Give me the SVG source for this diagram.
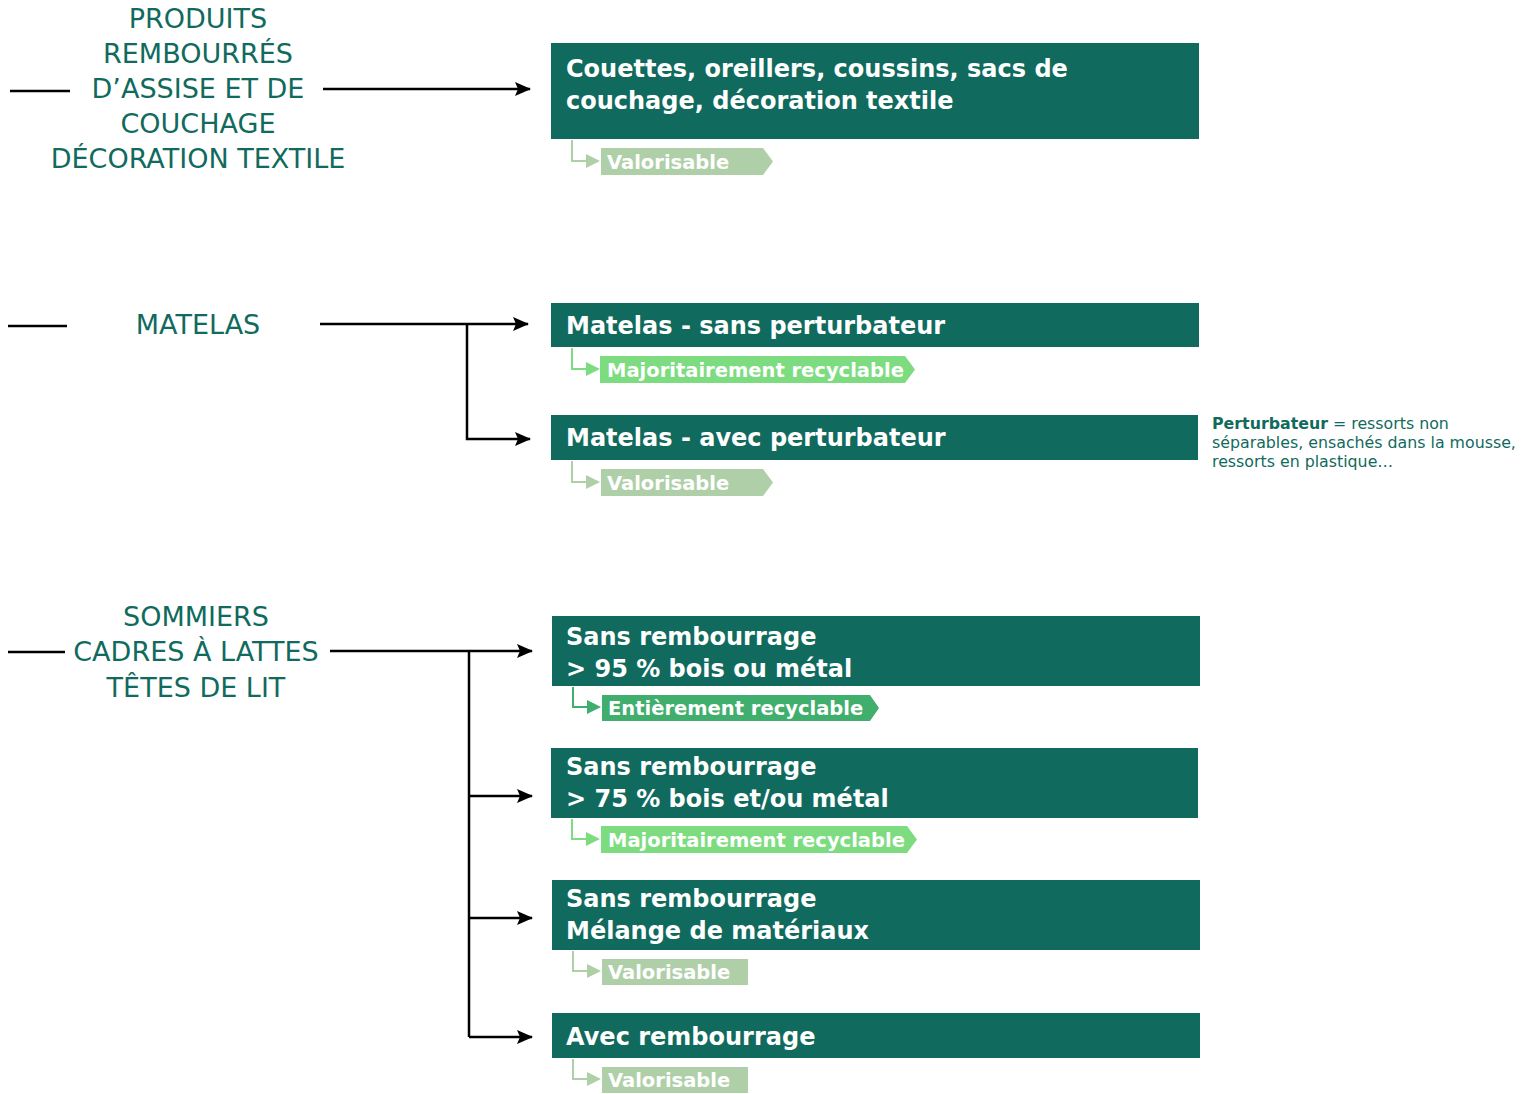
<svg xmlns="http://www.w3.org/2000/svg" width="1530" height="1094" viewBox="0 0 1530 1094">
<defs>
<marker id="ah" markerWidth="16" markerHeight="14" refX="15" refY="7" orient="auto" markerUnits="userSpaceOnUse"><path d="M0,0 L16,7 L0,14 L3,7 z" fill="#000"/></marker>
<style>
.box{fill:#116A5E}
.bt{font-family:"DejaVu Sans","Noto Sans",sans-serif;font-weight:700;font-size:24px;fill:#fff}
.cat{font-family:"DejaVu Sans","Noto Sans",sans-serif;font-size:27px;fill:#116A5E;text-anchor:middle}
.tt{font-family:"DejaVu Sans","Noto Sans",sans-serif;font-weight:700;font-size:19.5px;fill:#fff}
.conn{stroke:#000;stroke-width:2.5;fill:none}
.note{font-family:"DejaVu Sans","Noto Sans",sans-serif;font-size:15.8px;fill:#116A5E}
.val{fill:#AFCFA9}.maj{fill:#7DDC7F}.ent{fill:#40AE6C}
.lval{stroke:#AFCFA9}.lmaj{stroke:#7DDC7F}.lent{stroke:#40AE6C}
.tl{fill:none;stroke-width:2}
</style>
</defs>
<g id="connectors">
<line class="conn" x1="10" y1="91" x2="70" y2="91"/>
<line class="conn" x1="323" y1="89" x2="530" y2="89" marker-end="url(#ah)"/>
<line class="conn" x1="8" y1="326" x2="67" y2="326"/>
<line class="conn" x1="320" y1="324" x2="528" y2="324" marker-end="url(#ah)"/>
<polyline class="conn" points="467,324 467,439 530,439" marker-end="url(#ah)"/>
<line class="conn" x1="8" y1="652" x2="65" y2="652"/>
<line class="conn" x1="330" y1="651" x2="532" y2="651" marker-end="url(#ah)"/>
<line class="conn" x1="469" y1="651" x2="469" y2="1037"/>
<line class="conn" x1="469" y1="796" x2="532" y2="796" marker-end="url(#ah)"/>
<line class="conn" x1="469" y1="918" x2="532" y2="918" marker-end="url(#ah)"/>
<line class="conn" x1="469" y1="1037" x2="532" y2="1037" marker-end="url(#ah)"/>
</g>
<g id="cat-produits">
<text class="cat" x="198" y="28">PRODUITS</text>
<text class="cat" x="198" y="63">REMBOURRÉS</text>
<text class="cat" x="198" y="98">D’ASSISE ET DE</text>
<text class="cat" x="198" y="133">COUCHAGE</text>
<text class="cat" x="198" y="168">DÉCORATION TEXTILE</text>
</g>
<g id="cat-matelas">
<text class="cat" x="198" y="334">MATELAS</text>
</g>
<g id="cat-sommiers">
<text class="cat" x="196" y="626">SOMMIERS</text>
<text class="cat" x="196" y="661">CADRES À LATTES</text>
<text class="cat" x="196" y="697">TÊTES DE LIT</text>
</g>
<g id="node-couettes">
<rect class="box" x="551" y="43" width="648" height="96"/>
<text class="bt" x="566" y="77">Couettes, oreillers, coussins, sacs de</text>
<text class="bt" x="566" y="109">couchage, décoration textile</text>
<polyline class="tl lval" points="572,140 572,161 590,161"/>
<path class="val" d="M586,154 L600,161 L586,168 z"/>
<path class="val" d="M601,148 H763 L773,161.5 L763,175 H601 z"/>
<text class="tt" x="607" y="169">Valorisable</text>
</g>
<g id="node-matelas-sans">
<rect class="box" x="551" y="303" width="648" height="44"/>
<text class="bt" x="566" y="334">Matelas - sans perturbateur</text>
<polyline class="tl lmaj" points="572,348 572,369 590,369"/>
<path class="maj" d="M586,362 L600,369 L586,376 z"/>
<path class="maj" d="M600,356 H905 L915,369.5 L905,383 H600 z"/>
<text class="tt" x="607" y="377">Majoritairement recyclable</text>
</g>
<g id="node-matelas-avec">
<rect class="box" x="551" y="415" width="647" height="45"/>
<text class="bt" x="566" y="446">Matelas - avec perturbateur</text>
<polyline class="tl lval" points="572,461 572,482 590,482"/>
<path class="val" d="M586,475 L600,482 L586,489 z"/>
<path class="val" d="M601,469 H763 L773,482.5 L763,496 H601 z"/>
<text class="tt" x="607" y="490">Valorisable</text>
</g>
<g id="note">
<text class="note" x="1212" y="429"><tspan font-weight="700">Perturbateur</tspan> = ressorts non</text>
<text class="note" x="1212" y="448">séparables, ensachés dans la mousse,</text>
<text class="note" x="1212" y="467">ressorts en plastique…</text>
</g>
<g id="node-sans-95">
<rect class="box" x="552" y="616" width="648" height="70"/>
<text class="bt" x="566" y="645">Sans rembourrage</text>
<text class="bt" x="566" y="677">&gt; 95 % bois ou métal</text>
<polyline class="tl lent" points="573,687 573,707 591,707"/>
<path class="ent" d="M587,700 L601,707 L587,714 z"/>
<path class="ent" d="M602,695 H870 L879,708 L870,721 H602 z"/>
<text class="tt" x="608" y="715">Entièrement recyclable</text>
</g>
<g id="node-sans-75">
<rect class="box" x="551" y="748" width="647" height="70"/>
<text class="bt" x="566" y="775">Sans rembourrage</text>
<text class="bt" x="566" y="807">&gt; 75 % bois et/ou métal</text>
<polyline class="tl lmaj" points="572,819 572,839 590,839"/>
<path class="maj" d="M586,832 L600,839 L586,846 z"/>
<path class="maj" d="M601,826 H907 L917,839.5 L907,853 H601 z"/>
<text class="tt" x="608" y="847">Majoritairement recyclable</text>
</g>
<g id="node-sans-melange">
<rect class="box" x="552" y="880" width="648" height="70"/>
<text class="bt" x="566" y="907">Sans rembourrage</text>
<text class="bt" x="566" y="939">Mélange de matériaux</text>
<polyline class="tl lval" points="573,951 573,971 591,971"/>
<path class="val" d="M587,964 L601,971 L587,978 z"/>
<rect class="val" x="602" y="959" width="146" height="26"/>
<text class="tt" x="608" y="979">Valorisable</text>
</g>
<g id="node-avec">
<rect class="box" x="552" y="1013" width="648" height="45"/>
<text class="bt" x="566" y="1045">Avec rembourrage</text>
<polyline class="tl lval" points="573,1059 573,1079 591,1079"/>
<path class="val" d="M587,1072 L601,1079 L587,1086 z"/>
<rect class="val" x="602" y="1067" width="146" height="26"/>
<text class="tt" x="608" y="1087">Valorisable</text>
</g>
</svg>
